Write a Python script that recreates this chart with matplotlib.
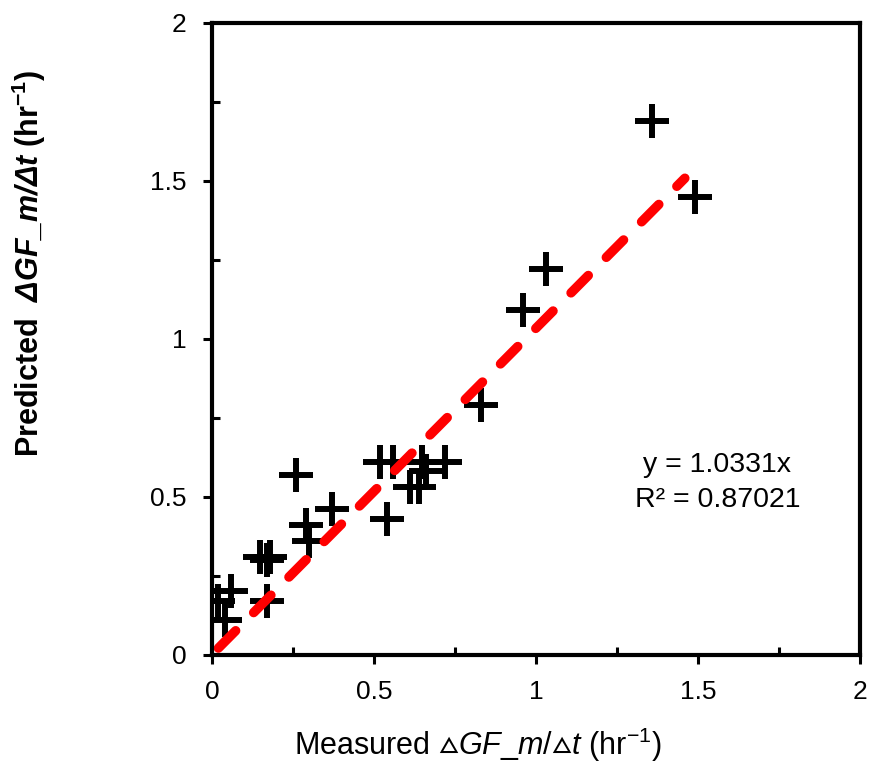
import matplotlib
matplotlib.use("Agg")
import matplotlib.pyplot as plt
from matplotlib.ticker import MultipleLocator, FuncFormatter
import numpy as np

plt.rcParams['font.family'] = ['Liberation Sans', 'DejaVu Sans']
plt.rcParams['mathtext.fontset'] = 'custom'
plt.rcParams['mathtext.rm'] = 'Liberation Sans'
plt.rcParams['mathtext.it'] = 'Liberation Sans:italic'
plt.rcParams['mathtext.bf'] = 'Liberation Sans:bold'
plt.rcParams['mathtext.bfit'] = 'Liberation Sans:bold:italic'
plt.rcParams['mathtext.fallback'] = 'stixsans'

# measured vs predicted growth rate
measured = [1.36, 1.49, 1.03, 0.96, 0.83,
            0.52, 0.56, 0.72, 0.61, 0.66, 0.64, 0.65,
            0.54, 0.37, 0.26, 0.29, 0.30,
            0.15, 0.18, 0.17, 0.17,
            0.06, 0.02, 0.04]
predicted = [1.69, 1.45, 1.22, 1.09, 0.79,
             0.61, 0.61, 0.61, 0.53, 0.58, 0.53, 0.61,
             0.43, 0.46, 0.57, 0.41, 0.36,
             0.31, 0.31, 0.30, 0.17,
             0.20, 0.17, 0.11]
slope = 1.0331
r2 = 0.87021
fit_range = [0.02, 1.46]

fig = plt.figure(figsize=(8.72, 7.63), dpi=100)
ax = fig.add_axes([0.243, 0.142, 0.743, 0.828])

ax.plot(measured, predicted, linestyle='none', marker='+', color='black',
        markersize=24, markeredgewidth=4.3)

xfit = np.array(fit_range)
ax.plot(xfit, slope * xfit, color='#ff0000', linewidth=6.8,
        linestyle=(0, (2.6, 2.7)), dash_capstyle='round')

ax.text(1.56, 0.6, 'y = %.4fx' % slope, ha='center', va='center', fontsize=20.5)
ax.text(1.56, 0.49, 'R² = %.5f' % r2, ha='center', va='center', fontsize=20.5)

ax.set_xlim(0, 2)
ax.set_ylim(0, 2)
ax.xaxis.set_major_locator(MultipleLocator(0.5))
ax.yaxis.set_major_locator(MultipleLocator(0.5))
ax.xaxis.set_minor_locator(MultipleLocator(0.25))
ax.yaxis.set_minor_locator(MultipleLocator(0.25))
ax.xaxis.set_major_formatter(FuncFormatter(lambda v, p: '%g' % v))
ax.yaxis.set_major_formatter(FuncFormatter(lambda v, p: '%g' % v))

ax.tick_params(which='major', direction='out', length=6.5, width=2.2,
               labelsize=19, pad=12)
ax.tick_params(which='minor', direction='in', length=6, width=2.2)
for s in ax.spines.values():
    s.set_linewidth(3)

ax.set_xlabel(r'Measured $\mathrm{▵}\mathit{GF\_m/}\mathrm{▵}\mathit{t}$ (hr$^{-1}$)',
              fontsize=22, va='center')
ax.xaxis.set_label_coords(0.41, -0.142)
ax.set_ylabel(r'Predicted  $\mathbfit{\Delta GF\_m/\Delta t}$ (hr$^{\mathbf{-1}}$)',
              fontsize=22, fontweight='bold', va='center')
ax.yaxis.set_label_coords(-0.283, 0.62)

fig.savefig('out.png', dpi=100)
